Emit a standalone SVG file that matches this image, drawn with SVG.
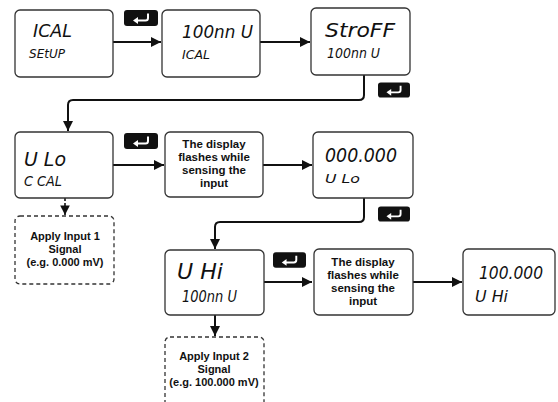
<svg xmlns="http://www.w3.org/2000/svg" width="558" height="402" viewBox="0 0 558 402">
<style>
.box{fill:#fff;stroke:#333;stroke-width:1.3}
.dash{fill:#fff;stroke:#333;stroke-width:1.3;stroke-dasharray:4 3}
.seg{font-family:"DejaVu Sans",sans-serif;font-style:italic;fill:#111}
.lbl{font-family:"Liberation Sans",Arial,sans-serif;font-weight:bold;font-size:11.5px;fill:#111;text-anchor:middle}
.sm{font-size:11px}
.con{fill:none;stroke:#111;stroke-width:2}
.dcon{fill:none;stroke:#111;stroke-width:1.6;stroke-dasharray:3 2}
</style>
<defs>
<marker id="ah" viewBox="0 0 10 10" refX="10" refY="5" markerWidth="5" markerHeight="5" markerUnits="strokeWidth" orient="auto">
<path d="M0,0 L10,5 L0,10 z" fill="#111"/>
</marker>
<marker id="ahd" viewBox="0 0 10 10" refX="10" refY="5" markerWidth="6" markerHeight="6" markerUnits="strokeWidth" orient="auto">
<path d="M0,0 L10,5 L0,10 z" fill="#111"/>
</marker>
<symbol id="enter" viewBox="0 0 34 16">
<rect x="0" y="0" width="34" height="16" rx="3" fill="#111"/>
<path d="M24,3.5 V8 Q24,10.5 21.5,10.5 H13" fill="none" stroke="#fff" stroke-width="2"/>
<path d="M9,10.5 L14,7 L14,14 z" fill="#fff"/>
</symbol>
</defs>

<g id="connectors">
<line class="con" x1="113" y1="42" x2="161" y2="42" marker-end="url(#ah)"/>
<line class="con" x1="260" y1="42" x2="310" y2="42" marker-end="url(#ah)"/>
<path class="con" d="M364,75 V95 Q364,100 359,100 H73 Q68,100 68,105 V131" marker-end="url(#ah)"/>
<line class="con" x1="113" y1="165" x2="164" y2="165" marker-end="url(#ah)"/>
<line class="con" x1="263" y1="165" x2="312" y2="165" marker-end="url(#ah)"/>
<path class="con" d="M364,198 V217 Q364,222 359,222 H220 Q215,222 215,227 V249" marker-end="url(#ah)"/>
<line class="dcon" x1="65" y1="198" x2="65" y2="215" marker-end="url(#ahd)"/>
<line class="con" x1="264" y1="282" x2="312" y2="282" marker-end="url(#ah)"/>
<line class="con" x1="413" y1="282" x2="462" y2="282" marker-end="url(#ah)"/>
<line class="con" x1="215" y1="315" x2="215" y2="336" marker-end="url(#ah)"/>
</g>

<g id="key1"><use href="#enter" x="124" y="10" width="34" height="16"/></g>
<g id="key2"><use href="#enter" x="378" y="82" width="32" height="16"/></g>
<g id="key3"><use href="#enter" x="124" y="133" width="34" height="16"/></g>
<g id="key4"><use href="#enter" x="378" y="206" width="32" height="16"/></g>
<g id="key5"><use href="#enter" x="273" y="252" width="33" height="16"/></g>

<g id="n1">
<rect class="box" x="15" y="10" width="98" height="67" rx="5"/>
<text class="seg" x="33" y="37" font-size="18" textLength="39" lengthAdjust="spacingAndGlyphs">ICAL</text>
<text class="seg" x="29" y="58" font-size="12" textLength="36" lengthAdjust="spacingAndGlyphs">SEtUP</text>
</g>
<g id="n2">
<rect class="box" x="162" y="10" width="98" height="67" rx="5"/>
<text class="seg" x="182" y="38" font-size="17" textLength="71" lengthAdjust="spacingAndGlyphs">100nn U</text>
<text class="seg" x="182" y="59" font-size="12" textLength="28" lengthAdjust="spacingAndGlyphs">ICAL</text>
</g>
<g id="n3">
<rect class="box" x="311" y="8" width="99" height="67" rx="5"/>
<text class="seg" x="325" y="37" font-size="20" textLength="70" lengthAdjust="spacingAndGlyphs">StroFF</text>
<text class="seg" x="327" y="58" font-size="14" textLength="53" lengthAdjust="spacingAndGlyphs">100nn U</text>
</g>
<g id="n4">
<rect class="box" x="15" y="132" width="98" height="66" rx="5"/>
<text class="seg" x="24" y="166" font-size="20" textLength="42" lengthAdjust="spacingAndGlyphs">U Lo</text>
<text class="seg" x="24" y="186" font-size="14" textLength="38" lengthAdjust="spacingAndGlyphs">C CAL</text>
</g>
<g id="n5">
<rect class="box" x="165" y="132" width="98" height="65" rx="5"/>
<text class="lbl" x="214" y="148">The display</text>
<text class="lbl" x="214" y="161">flashes while</text>
<text class="lbl" x="214" y="174">sensing the</text>
<text class="lbl" x="214" y="187">input</text>
</g>
<g id="n6">
<rect class="box" x="313" y="132" width="100" height="66" rx="5"/>
<text class="seg" x="325" y="162" font-size="20" textLength="72" lengthAdjust="spacingAndGlyphs">000.000</text>
<text class="seg" x="325" y="183" font-size="12" textLength="35" lengthAdjust="spacingAndGlyphs">U Lo</text>
</g>
<g id="n7">
<rect class="dash" x="15" y="216" width="99" height="68" rx="5"/>
<text class="lbl sm" x="65" y="240">Apply Input 1</text>
<text class="lbl sm" x="65" y="253">Signal</text>
<text class="lbl sm" x="65" y="266">(e.g. 0.000 mV)</text>
</g>
<g id="n8">
<rect class="box" x="165" y="250" width="99" height="65" rx="5"/>
<text class="seg" x="177" y="279" font-size="22" textLength="46" lengthAdjust="spacingAndGlyphs">U Hi</text>
<text class="seg" x="182" y="302" font-size="16" textLength="55" lengthAdjust="spacingAndGlyphs">100nn U</text>
</g>
<g id="n9">
<rect class="box" x="314" y="249" width="99" height="66" rx="5"/>
<text class="lbl" x="363" y="266">The display</text>
<text class="lbl" x="363" y="279">flashes while</text>
<text class="lbl" x="363" y="292">sensing the</text>
<text class="lbl" x="363" y="305">input</text>
</g>
<g id="n10">
<rect class="box" x="463" y="249" width="92" height="66" rx="5"/>
<text class="seg" x="479" y="279" font-size="18.5" textLength="64" lengthAdjust="spacingAndGlyphs">100.000</text>
<text class="seg" x="475" y="302" font-size="16" textLength="33" lengthAdjust="spacingAndGlyphs">U Hi</text>
</g>
<g id="n11">
<rect class="dash" x="165" y="337" width="99" height="70" rx="5"/>
<text class="lbl sm" x="214" y="360">Apply Input 2</text>
<text class="lbl sm" x="214" y="373">Signal</text>
<text class="lbl sm" x="214" y="386">(e.g. 100.000 mV)</text>
</g>
</svg>
